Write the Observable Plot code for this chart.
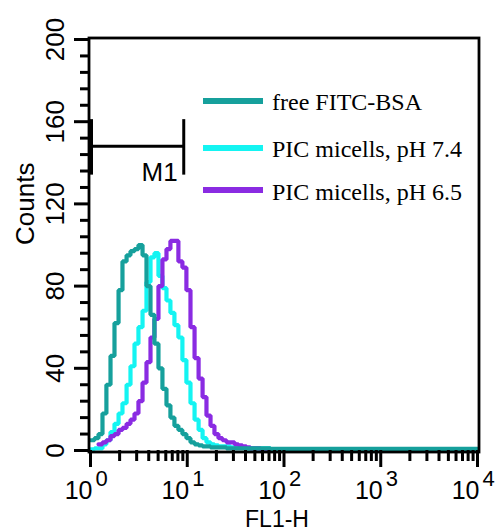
<!DOCTYPE html>
<html><head><meta charset="utf-8">
<script src="https://cdn.jsdelivr.net/npm/d3@7"></script>
<script src="https://cdn.jsdelivr.net/npm/@observablehq/plot@0.6"></script>
<style>
html,body{margin:0;padding:0;background:#fff;}
#wrap{position:relative;width:497px;height:530px;overflow:hidden;}
#wrap svg{display:block;}
#legend{position:absolute;left:0;top:0;pointer-events:none;}
</style></head><body><div id="wrap"></div>
<script>
// FL1-H channel positions (left edge of each histogram step)
const fl1 = [1.00,1.10,1.21,1.33,1.46,1.61,1.77,1.95,2.14,2.36,2.59,2.85,3.13,3.45,3.79,4.17,4.58,5.04,5.54,6.10,6.70,7.37,8.10,8.91,9.80,10.8,11.9,13.1,14.4,15.8,17.4,19.1,21.0,23.1,25.4,28.0,30.8,33.8,37.2,40.9,45.0,57.0,72.4,92.0,148,487,1600,5300,10000];
// Counts per channel, one array per sample
const countsFree = [5,6,8,18,32,46,62,78,92,95,97,98,100,95,80,66,52,40,30,22,16,12,10,8,6,4,3,2.5,2,2,1.5,1.5,1.5,1.5,1,1,1,1,1,1,1,1,0.8,0.8,0.8,0.8,0.8,0.8,0.8];
const countsPH74 = [0.5,1,1,3,5,9,13,18,23,32,41,52,60,68,82,94,96,85,79,73,67,61,55,44,33,23,15,10,6,4,3,2.5,2,2,2,1.5,1.5,1.5,1.5,1,1,1,0.5,0.5,0.5,0.5,0.5,0.5,0.5];
const countsPH65 = [null,null,3,4,5,7,8,10,11,13,15,18,24,33,43,55,64,80,93,98,102,102,92,89,78,60,45,35,26,17,12,8,6,5,4,4,3,2.5,2,1.5,1,0.5,0.5,0.5,0.5,0.5,0.5,0.5,0.5];

const seriesNames = ["free FITC-BSA", "PIC micells, pH 7.4", "PIC micells, pH 6.5"];
const seriesColors = ["#16a09c", "#14f4f2", "#8a2be2"];

const yMajor = [0, 40, 80, 120, 160, 200];
const yMinor = [8,16,24,32,48,56,64,72,88,96,104,112,128,136,144,152,168,176,184,192];
const xMajor = [1, 10, 100, 1000, 10000];
const xBase = ["10", "10", "10", "10", "10"];
const xExp = ["0", "1", "2", "3", "4"];
const xMinor = [2,3,4,5,6,7,8,9,20,30,40,50,60,70,80,90,200,300,400,500,600,700,800,900,2000,3000,4000,5000,6000,7000,8000,9000];

const gateX = [1, 9.2];
const gateY = 148;
const gateSpan = [134, 161];
const gateLabel = "M1";
const xLabel = "FL1-H";
const yLabel = "Counts";

const sans = "'Liberation Sans', Arial, Helvetica, sans-serif";
const serif = "'Liberation Serif', 'Times New Roman', serif";

const mk = (counts, name) => fl1.map((x, i) => ({x, y: counts[i], s: name})).filter(d => d.y != null);
const rowsFree = mk(countsFree, seriesNames[0]);
const rows74 = mk(countsPH74, seriesNames[1]);
const rows65 = mk(countsPH65, seriesNames[2]);

const sw = 4.2;
const chart = Plot.plot({
  width: 497, height: 530,
  marginLeft: 90, marginRight: 20, marginTop: 39, marginBottom: 80,
  style: {fontFamily: sans, background: "white", color: "black", overflow: "visible"},
  x: {type: "log", domain: [1, 10000], axis: null},
  y: {domain: [0, 200], axis: null},
  marks: [
    Plot.line(rows74, {x: "x", y: "y", curve: "step-after", stroke: seriesColors[1], strokeWidth: sw, strokeLinejoin: "miter"}),
    Plot.line(rows65, {x: "x", y: "y", curve: "step-after", stroke: seriesColors[2], strokeWidth: sw, strokeLinejoin: "miter"}),
    Plot.line(rowsFree, {x: "x", y: "y", curve: "step-after", stroke: seriesColors[0], strokeWidth: sw, strokeLinejoin: "miter"}),
    Plot.frame({stroke: "black", strokeWidth: 2.8, inset: -1.5}),
    Plot.axisY({ticks: yMinor, anchor: "left", tickSize: 10, tickFormat: () => "", strokeWidth: 3, label: null}),
    Plot.axisY({ticks: yMajor, anchor: "left", tickSize: 16, tickFormat: () => "", strokeWidth: 3, label: null}),
    Plot.axisX({ticks: xMinor, anchor: "bottom", tickSize: 11, tickFormat: () => "", strokeWidth: 3, label: null}),
    Plot.axisX({ticks: xMajor, anchor: "bottom", tickSize: 17, tickFormat: () => "", strokeWidth: 3, label: null}),
    Plot.text(yMajor, {y: d => d, frameAnchor: "left", dx: -27, rotate: -90, text: d => String(d), textAnchor: "middle", lineAnchor: "bottom", fontSize: 26}),
    Plot.text(xMajor, {x: d => d, frameAnchor: "bottom", dy: 48, dx: 2, text: (d, i) => xBase[i], textAnchor: "end", lineAnchor: "bottom", fontSize: 25}),
    Plot.text(xMajor, {x: d => d, frameAnchor: "bottom", dy: 35, dx: 5, text: (d, i) => xExp[i], textAnchor: "start", lineAnchor: "bottom", fontSize: 22}),
    Plot.text([xLabel], {frameAnchor: "bottom", dy: 76, dx: -7, text: d => d, lineAnchor: "bottom", fontSize: 23}),
    Plot.text([yLabel], {frameAnchor: "left", dx: -57, rotate: -90, text: d => d, lineAnchor: "bottom", fontSize: 26}),
    Plot.ruleY([{y: gateY, x1: gateX[0], x2: gateX[1]}], {y: "y", x1: "x1", x2: "x2", stroke: "black", strokeWidth: 3}),
    Plot.ruleX([gateX[0]], {x: d => d, y1: gateSpan[0], y2: gateSpan[1], stroke: "black", strokeWidth: 5}),
    Plot.ruleX([gateX[1]], {x: d => d, y1: gateSpan[0], y2: gateSpan[1], stroke: "black", strokeWidth: 3}),
    Plot.text([{x: gateX[1], y: gateY, t: gateLabel}], {x: "x", y: "y", text: "t", textAnchor: "end", lineAnchor: "bottom", dx: -6, dy: 35, fontSize: 26})
  ]
});

const wrap = document.getElementById("wrap");
wrap.appendChild(chart);

// Legend overlay
const legLineY = [101, 148, 190];
const legTextY = [110, 157, 200];
const leg = d3.create("svg").attr("id", "legend").attr("width", 497).attr("height", 530);
seriesNames.forEach((name, i) => {
  leg.append("line").attr("x1", 203).attr("x2", 263).attr("y1", legLineY[i]).attr("y2", legLineY[i])
    .attr("stroke", seriesColors[i]).attr("stroke-width", 6);
  leg.append("text").attr("x", 272).attr("y", legTextY[i]).attr("font-family", serif)
    .attr("font-size", 24).attr("fill", "black").text(name);
});
wrap.appendChild(leg.node());
</script>
</body></html>
